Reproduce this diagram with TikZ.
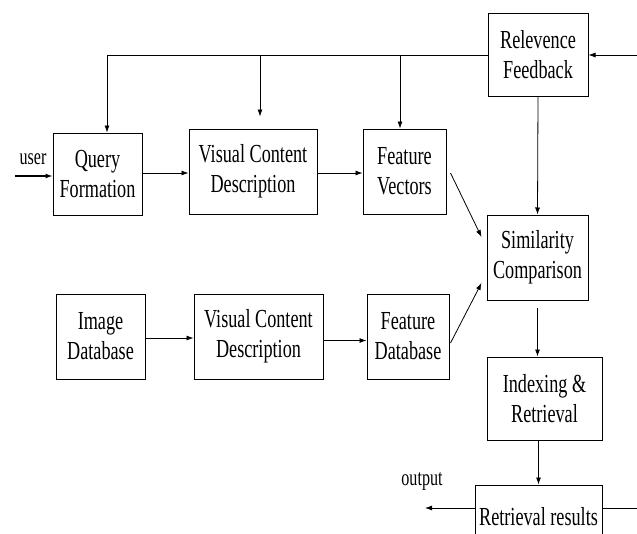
\documentclass[tikz,border=0pt]{standalone}
\usepackage{fontspec}
\setmainfont[FakeStretch=0.7]{Liberation Serif}
\usetikzlibrary{arrows.meta}
\begin{document}
\begin{tikzpicture}[x=1pt, y=-1pt, line width=0.8pt,
             box/.style = {draw, shape=rectangle, align=center, inner sep=0pt,
                           line width=1pt, font=\fontsize{26}{30}\selectfont},
             arr/.style = {-{Latex[length=7pt,width=5pt]}},
             lbl/.style = {font=\fontsize{23}{26}\selectfont}]
\useasboundingbox (0,0) rectangle (637,533);
\clip (0,0) rectangle (637,533);

% query side
\node (rf) [box, minimum width=100pt, minimum height=83pt] at (538,55) {Relevence\\Feedback};
\node (qf) [box, minimum width=89pt, minimum height=82pt] at (97.5,174) {Query\\Formation};
\node (vcd1) [box, minimum width=128pt, minimum height=85pt] at (253,171.5) {Visual Content\\Description};
\node (fv) [box, minimum width=83pt, minimum height=85pt] at (404.5,171.5) {Feature\\Vectors};

% database side
\node (idb) [box, minimum width=89pt, minimum height=85pt] at (100.5,336.5) {Image\\Database};
\node (vcd2) [box, minimum width=129pt, minimum height=85pt] at (258.5,336.5) {Visual Content\\Description};
\node (fdb) [box, minimum width=82pt, minimum height=85pt] at (408,336.5) {Feature\\Database};

% matching
\node (sc) [box, minimum width=101pt, minimum height=85pt] at (537.5,257.5) {Similarity\\Comparison};
\node (ir) [box, minimum width=115pt, minimum height=83pt] at (544.5,398.5) {Indexing \&\\Retrieval};
\node (rr) [box, minimum width=127pt, minimum height=64pt] at (538.5,517) {Retrieval results};

\coordinate (user) at (15,176);
\coordinate (out) at (425,508);
\coordinate (back) at (648,0);
\node [lbl] at (33,159) {user};
\node [lbl] at (422,481) {output};

% feedback lines
\draw[arr] (rf.west) -| ([xshift=9.5pt]qf.north);
\draw[arr] (rf.west -| vcd1.north) ++(7,0) -- ([xshift=7pt,yshift=12pt]vcd1.north);
\draw[arr] (rf.west -| fv.north) ++(-4.5,0) -- ([xshift=-4.5pt]fv.north);
\draw[arr] (rf.south) -- (sc.north);

% flow
\draw[arr, line width=1.1pt] (user) -- (user -| qf.west);
\draw[arr] (qf.east) ++(0,-1) -- ([yshift=1pt]qf.east -| vcd1.west);
\draw[arr] (vcd1.east) ++(0,1.5) -- ([yshift=-1.5pt]vcd1.east -| fv.west);
\draw[arr] ([xshift=4pt,yshift=-1.5pt]fv.east) -- ([xshift=-5pt,yshift=20.5pt]sc.west);
\draw[arr] ([yshift=-1.5pt]idb.east) -- ([yshift=-1.5pt]idb.east -| vcd2.west);
\draw[arr] ([yshift=-4pt]vcd2.east) -- ([yshift=-4pt]vcd2.east -| fdb.west);
\draw[arr] ([xshift=1pt,yshift=-6.5pt]fdb.east) -- ([xshift=-5pt,yshift=-25.5pt]sc.west);
\draw[arr] ([yshift=-7pt]sc.south) -- (sc.south |- ir.north);
\draw[arr] (ir.south -| rr.north) -- (rr.north);
\draw[arr] ([yshift=9pt]rr.west) -- (out);
\draw[arr] ([yshift=9pt]rr.east) -| (back) |- (rf.east);
\end{tikzpicture}
\end{document}
